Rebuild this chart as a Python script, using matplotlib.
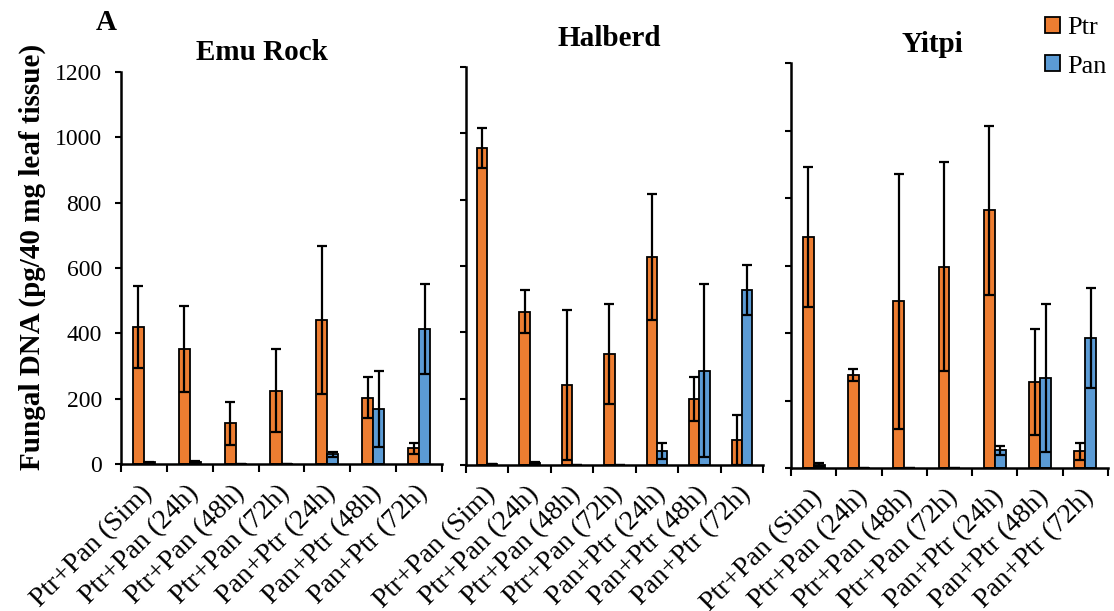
import numpy as np
import matplotlib.pyplot as plt
import matplotlib.transforms as mtransforms
from matplotlib.patches import Patch

plt.rcParams['font.family'] = ['Liberation Serif', 'DejaVu Serif']

categories = ['Ptr+Pan (Sim)', 'Ptr+Pan (24h)', 'Ptr+Pan (48h)', 'Ptr+Pan (72h)',
              'Pan+Ptr (24h)', 'Pan+Ptr (48h)', 'Pan+Ptr (72h)']
cultivars = ['Emu Rock', 'Halberd', 'Yitpi']

# mean fungal DNA and standard error, one list per cultivar
emu_ptr = [420, 352, 125, 224, 441, 203, 48]
emu_ptr_err = [126, 133, 66, 127, 226, 63, 17]
emu_pan = [5, 7, 0, 1, 30, 169, 414]
emu_pan_err = [2, 3, 0, 0, 8, 116, 137]

hal_ptr = [955, 462, 241, 335, 628, 199, 75]
hal_ptr_err = [61, 65, 226, 151, 190, 66, 76]
hal_pan = [3, 7, 1, 1, 42, 284, 528]
hal_pan_err = [1, 3, 0, 0, 25, 261, 75]

yit_ptr = [685, 276, 494, 597, 764, 255, 49]
yit_ptr_err = [208, 17, 378, 311, 250, 158, 24]
yit_pan = [10, 1, 0, 0, 52, 266, 384]
yit_pan_err = [4, 0, 0, 0, 14, 220, 148]

ptr_color = '#ED7D31'
pan_color = '#5B9BD5'

W, H = 1114, 611
fig = plt.figure(figsize=(W / 100, H / 100), dpi=100)

# axes boxes in pixels: left, right, bottom (y=0), top (y=1200)
boxes = [(121, 442, 464, 72),
         (466, 763, 465, 67),
         (791, 1108, 468, 63)]

data = [(emu_ptr, emu_ptr_err, emu_pan, emu_pan_err),
        (hal_ptr, hal_ptr_err, hal_pan, hal_pan_err),
        (yit_ptr, yit_ptr_err, yit_pan, yit_pan_err)]

titles = [(262, 52), (609, 38), (932, 45)]

x = np.arange(len(categories))
bw = 0.24
shift = mtransforms.ScaledTranslation(-4 / 100, 0, fig.dpi_scale_trans)

for i, ((l, r, b, t), (p, pe, a, ae)) in enumerate(zip(boxes, data)):
    ax = fig.add_axes([l / W, 1 - b / H, (r - l) / W, (b - t) / H])
    ax.bar(x - bw / 2, p, bw, color=ptr_color, edgecolor='black', linewidth=1.3, zorder=2)
    ax.bar(x + bw / 2, a, bw, color=pan_color, edgecolor='black', linewidth=1.3, zorder=2)
    ax.errorbar(x - bw / 2, p, yerr=pe, fmt='none', ecolor='black', elinewidth=1.6,
                capsize=3.6, capthick=1.6, zorder=3)
    ax.errorbar(x + bw / 2, a, yerr=ae, fmt='none', ecolor='black', elinewidth=1.6,
                capsize=3.6, capthick=1.6, zorder=3)

    ax.set_xlim(-0.5, len(categories) - 0.5)
    ax.set_ylim(0, 1200)
    ax.set_yticks(np.arange(0, 1201, 200))
    for side in ('top', 'right'):
        ax.spines[side].set_visible(False)
    for side in ('left', 'bottom'):
        ax.spines[side].set_linewidth(1.8)
    ax.tick_params(axis='y', direction='out', length=4.3, width=1.5, labelsize=17, pad=9.5)
    if i > 0:
        ax.tick_params(axis='y', labelleft=False)

    # boundary ticks between categories, labels at category centres
    ax.set_xticks(np.arange(-0.5, len(categories), 1.0))
    ax.set_xticklabels([])
    ax.tick_params(axis='x', which='major', direction='out', length=6, width=1.5)
    ax.set_xticks(x, minor=True)
    ax.set_xticklabels(categories, minor=True, rotation=45, ha='right',
                       rotation_mode='anchor', fontsize=20)
    ax.tick_params(axis='x', which='minor', length=0, pad=12)
    for lab in ax.get_xticklabels(minor=True):
        lab.set_transform(lab.get_transform() + shift)

    tx, ty = titles[i]
    fig.text(tx / W, 1 - ty / H, cultivars[i], ha='center', va='center',
             fontsize=21, fontweight='bold')

fig.text(106 / W, 1 - 22 / H, 'A', ha='center', va='center',
         fontsize=21, fontweight='bold')
fig.text(32 / W, 1 - 257 / H, 'Fungal DNA (pg/40 mg leaf tissue)', rotation=90,
         ha='center', va='center', fontsize=21, fontweight='bold')

handles = [Patch(facecolor=ptr_color, edgecolor='black', linewidth=1.3, label='Ptr'),
           Patch(facecolor=pan_color, edgecolor='black', linewidth=1.3, label='Pan')]
fig.legend(handles=handles, loc='upper left', bbox_to_anchor=(1045 / W, 1 - 17 / H),
           frameon=False, fontsize=19, handlelength=0.56, handleheight=0.56,
           handletextpad=0.3, labelspacing=0.6, borderpad=0, borderaxespad=0)

fig.savefig('out.png', dpi=100)
